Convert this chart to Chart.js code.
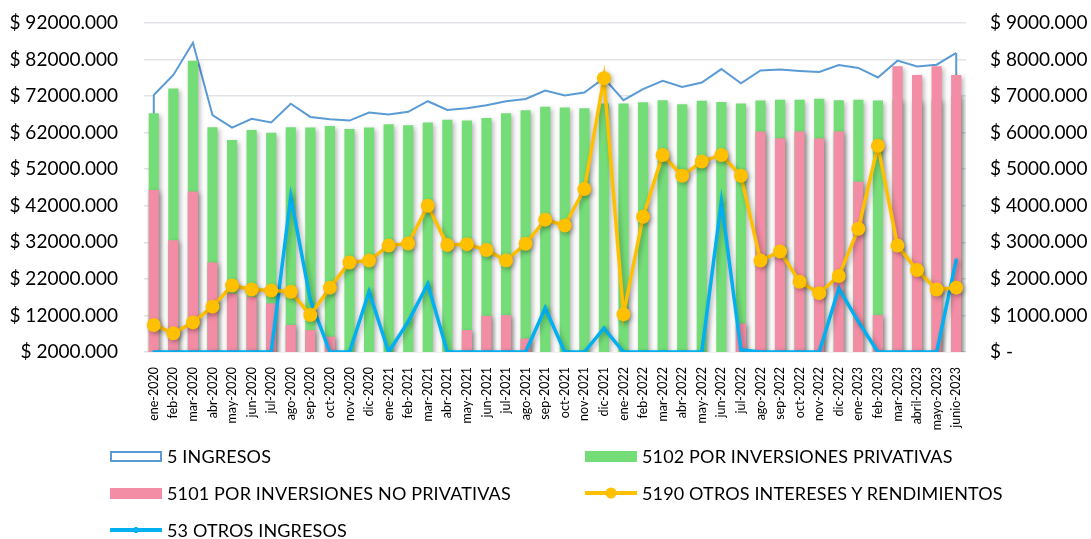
<!DOCTYPE html>
<html>
<head>
<meta charset="utf-8">
<script src="https://cdn.jsdelivr.net/npm/chart.js@4"></script>
<style>
  body { margin: 0; background: #fff; }
  #wrap { position: relative; width: 1091px; height: 539px; }
  .item { position: absolute; display: flex; align-items: center; height: 22px;
          font-family: Lato, sans-serif; font-size: 18px; letter-spacing: 0.15px; color: #000; white-space: nowrap; }
  .sym { width: 52px; height: 11px; margin-right: 5px; box-sizing: border-box; position: relative; }
  .ln { height: 4px; position: relative; width: 52px; margin-right: 5px; }
  .ln span { position: absolute; left: 50%; top: 50%; transform: translate(-50%, -50%); border-radius: 50%; }
</style>
</head>
<body>
<div id="wrap">
  <canvas id="chart" width="1091" height="539"></canvas>
  <div id="legend"></div>
</div>
<script>
// categories
const months = ['ene-2020','feb-2020','mar-2020','abr-2020','may-2020','jun-2020','jul-2020','ago-2020','sep-2020','oct-2020','nov-2020','dic-2020',
  'ene-2021','feb-2021','mar-2021','abr-2021','may-2021','jun-2021','jul-2021','ago-2021','sep-2021','oct-2021','nov-2021','dic-2021',
  'ene-2022','feb-2022','mar-2022','abr-2022','may-2022','jun-2022','jul-2022','ago-2022','sep-2022','oct-2022','nov-2022','dic-2022',
  'ene-2023','feb-2023','mar-2023','abril-2023','mayo-2023','junio-2023'];

// left axis series
const ingresos = [72300,77800,86600,66800,63400,65800,64800,69900,66300,65700,65300,67500,
  67000,67700,70600,68200,68700,69500,70600,71200,73500,72200,73000,76900,
  70900,73900,76200,74500,75700,79400,75500,79000,79300,78900,78600,80500,
  79700,77100,81700,80100,80600,83800];
const privativas = [67300,74100,81700,63500,60000,62700,62000,63500,63400,63800,63000,63400,
  64300,64000,64800,65500,65300,66000,67300,68100,69100,68900,68700,70000,
  70000,70300,70900,69800,70700,70400,70000,70800,71000,71000,71300,70900,
  71000,70800,71000,70800,71100,72000];
const noPrivativas = [46300,32600,45900,26500,18000,17100,15300,9400,8000,6200,0,0,
  0,0,0,0,8000,11900,12100,5700,0,0,0,0,
  0,0,0,0,0,0,9800,62300,60500,62300,60500,62300,
  48600,12100,80200,77800,80200,77800];

// right axis series
const otrosIntereses = [740,510,810,1240,1820,1710,1680,1650,1010,1760,2450,2500,
  2910,2970,4000,2930,2950,2790,2500,2960,3620,3460,4460,7490,
  1030,3700,5390,4820,5210,5390,4820,2500,2750,1920,1610,2080,
  3370,5640,2910,2240,1710,1760];
const otrosIngresos = [0,0,0,0,0,0,0,4250,1420,0,0,1650,
  0,830,1860,0,0,0,0,0,1200,0,0,650,
  0,0,0,0,0,4110,60,0,0,0,0,1740,
  830,0,0,0,0,2520];

// tick labels
const leftTicks = [2000,12000,22000,32000,42000,52000,62000,72000,82000,92000];
const rightTicks = [0,1000,2000,3000,4000,5000,6000,7000,8000,9000];

const money = v => v === 0 ? '$ -' : '$ ' + v + '.000';

const shadowPlugin = {
  id: 'shadow',
  beforeDatasetDraw(chart, args) {
    const ctx = chart.ctx;
    ctx.save();
    if (args.index !== 0) {
      ctx.shadowColor = 'rgba(0,0,0,0.3)';
      ctx.shadowBlur = 5;
      ctx.shadowOffsetX = 2;
      ctx.shadowOffsetY = 2;
    }
  },
  afterDatasetDraw(chart, args) {
    const ctx = chart.ctx;
    ctx.restore();
    if (args.index === 0) {
      // area edges down to the axis, like the excel area series
      const pts = args.meta.data;
      ctx.save();
      ctx.strokeStyle = '#5b9bd5';
      ctx.lineWidth = 2;
      [pts[0], pts[pts.length - 1]].forEach(p => {
        ctx.beginPath();
        ctx.moveTo(p.x, p.y);
        ctx.lineTo(p.x, chart.chartArea.bottom);
        ctx.stroke();
      });
      ctx.restore();
    }
  }
};

// fixed axis box, without the label padding pushing the plot down
const fixY = w => s => { s.width = w; s.paddingTop = 0; s.paddingBottom = 0; };

new Chart(document.getElementById('chart'), {
  data: {
    labels: months,
    datasets: [{
      type: 'line',
      label: '5 INGRESOS',
      data: ingresos,
      yAxisID: 'y',
      borderColor: '#5b9bd5',
      borderWidth: 2,
      backgroundColor: '#fff',
      fill: 'start',
      pointRadius: 0,
      tension: 0,
      order: 5
    }, {
      type: 'bar',
      label: '5102 POR INVERSIONES PRIVATIVAS',
      data: privativas,
      yAxisID: 'y',
      backgroundColor: '#74dd78',
      grouped: false,
      barPercentage: 0.52,
      categoryPercentage: 1,
      order: 4
    }, {
      type: 'bar',
      label: '5101 POR INVERSIONES NO PRIVATIVAS',
      data: noPrivativas,
      yAxisID: 'y',
      backgroundColor: '#f28da5',
      grouped: false,
      barPercentage: 0.52,
      categoryPercentage: 1,
      order: 3
    }, {
      type: 'line',
      label: '5190 OTROS INTERESES Y RENDIMIENTOS',
      data: otrosIntereses,
      yAxisID: 'y1',
      borderColor: '#ffc000',
      borderWidth: 3.5,
      pointRadius: 7,
      pointBorderWidth: 0,
      pointBackgroundColor: '#ffc000',
      tension: 0,
      order: 1
    }, {
      type: 'line',
      label: '53 OTROS INGRESOS',
      data: otrosIngresos,
      yAxisID: 'y1',
      borderColor: '#00b0f0',
      borderWidth: 3.5,
      pointStyle: 'rect',
      pointRadius: 2,
      pointBorderWidth: 0,
      pointBackgroundColor: '#00b0f0',
      tension: 0,
      order: 2
    }]
  },
  options: {
    responsive: false,
    animation: false,
    layout: { padding: { top: 23, bottom: 0, left: 0, right: 0 } },
    plugins: { legend: { display: false }, tooltip: { enabled: false } },
    scales: {
      x: {
        grid: { display: false },
        border: { display: false },
        ticks: { autoSkip: false, maxRotation: 90, minRotation: 90, padding: 7,
                 color: '#000', font: { family: 'Lato', size: 12.5 } },
        afterFit: s => { s.height = 187; }
      },
      y: {
        position: 'left',
        min: 2000, max: 92000,
        afterBuildTicks: s => { s.ticks = leftTicks.map(v => ({ value: v })); },
        grid: { color: '#dfe3e8', lineWidth: 1.5, drawTicks: false },
        border: { display: false },
        ticks: { padding: 26, color: '#000', font: { family: 'Lato', size: 19 }, callback: money },
        afterFit: fixY(144)
      },
      y1: {
        position: 'right',
        min: 0, max: 9000,
        afterBuildTicks: s => { s.ticks = rightTicks.map(v => ({ value: v })); },
        grid: { display: false, drawTicks: false },
        border: { display: false },
        ticks: { padding: 24, color: '#000', font: { family: 'Lato', size: 19 }, callback: money },
        afterFit: fixY(125)
      }
    }
  },
  plugins: [shadowPlugin]
});

// legend, two columns like the original
const legendItems = [
  { text: '5 INGRESOS', x: 110, y: 456, sym: '<div class="sym" style="border:2px solid #5b9bd5;background:#fff"></div>' },
  { text: '5102 POR INVERSIONES PRIVATIVAS', x: 585, y: 456, sym: '<div class="sym" style="background:#74dd78"></div>' },
  { text: '5101 POR INVERSIONES NO PRIVATIVAS', x: 110, y: 493, sym: '<div class="sym" style="background:#f28da5"></div>' },
  { text: '5190 OTROS INTERESES Y RENDIMIENTOS', x: 585, y: 493, sym: '<div class="ln" style="background:#ffc000"><span style="width:11px;height:11px;background:#ffc000"></span></div>' },
  { text: '53 OTROS INGRESOS', x: 110, y: 530, sym: '<div class="ln" style="background:#00b0f0"><span style="width:3px;height:6px;border-radius:0;background:#00b0f0"></span></div>' }
];
const legend = document.getElementById('legend');
legendItems.forEach(it => {
  const d = document.createElement('div');
  d.className = 'item';
  d.style.left = it.x + 'px';
  d.style.top = (it.y - 11) + 'px';
  d.innerHTML = it.sym + '<span>' + it.text + '</span>';
  legend.appendChild(d);
});
</script>
</body>
</html>
